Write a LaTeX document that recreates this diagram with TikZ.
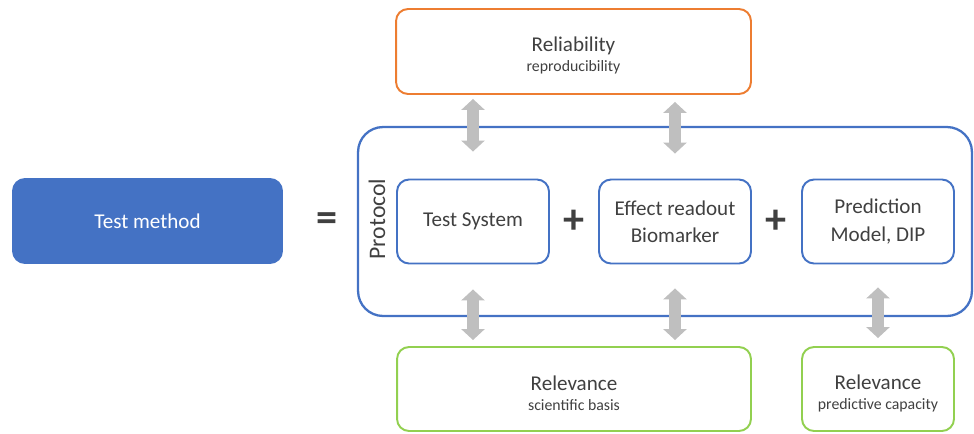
\documentclass[tikz,border=0pt]{standalone}
\usepackage{fontspec}
\setmainfont{Carlito}
\usetikzlibrary{arrows.meta}

\definecolor{methodblue}{HTML}{4472C4}
\definecolor{relorange}{HTML}{ED7D31}
\definecolor{relgreen}{HTML}{92D050}
\definecolor{arrowgray}{HTML}{BFBFBF}
\definecolor{textgray}{HTML}{404040}

\newcommand\mainsize{\fontsize{12}{15.5}\selectfont}
\newcommand\subsize{\fontsize{9}{11}\selectfont}
\newcommand\topstrut{\rule{0pt}{13pt}}

\begin{document}
\begin{tikzpicture}[x=0.02cm, y=-0.02cm,
  box/.style={draw, line width=1.1pt, rounded corners=0.24cm, align=center,
    text=textgray, font=\mainsize, minimum height=1.68cm, inner sep=0pt},
  smallbox/.style={box, draw=methodblue, minimum width=3.04cm},
  widebox/.style={box, minimum width=7.08cm},
  sign/.style={text=textgray, font=\fontsize{24}{24}\bfseries\selectfont},
  dblarrow/.style={draw=arrowgray, line width=0.24cm,
    {Triangle[width=0.46cm,length=0.22cm]}-{Triangle[width=0.46cm,length=0.22cm]}}]
\useasboundingbox (0,0) rectangle (974,433);

% test method
\node[box, fill=methodblue, draw=methodblue, text=white, minimum width=5.38cm]
  (method) at (147.5,221) {Test method};
\node[sign] (equals) at (327,222) {=};

% protocol
\node[box, draw=methodblue, line width=1.3pt, rounded corners=0.5cm,
  minimum width=12.28cm, minimum height=3.78cm] (protocol) at (665,221.5) {};
\node[rotate=90, text=textgray, font=\fontsize{13.5}{15}\selectfont]
  (protlabel) at (377,219) {Protocol};
\node[smallbox] (system) at (473,221.5) {Test System};
\node[sign] (plusA) at (574,222) {+};
\node[smallbox] (readout) at (675,221.5) {Effect readout\\Biomarker};
\node[sign] (plusB) at (776,222) {+};
\node[smallbox] (model) at (878,221.5) {Prediction\\Model, DIP};

% reliability and relevance
\node[widebox, draw=relorange, minimum width=7.1cm, minimum height=1.7cm]
  (reliab) at (573.5,51.5) {\topstrut Reliability\\[-4pt]{\subsize reproducibility}};
\node[widebox, draw=relgreen] (relsci) at (574,389)
  {\topstrut Relevance\\[-4pt]{\subsize scientific basis}};
\node[box, draw=relgreen, minimum width=3.04cm] (relpred) at (878,389)
  {\topstrut Relevance\\[-4pt]{\subsize predictive capacity}};

% arrows
\draw[dblarrow, shorten <=0.08cm, shorten >=0.54cm] (reliab.south -| system) -- (system.north);
\draw[dblarrow, shorten <=0.14cm, shorten >=0.5cm] (reliab.south -| readout) -- (readout.north);
\draw[dblarrow, shorten <=0.5cm, shorten >=0.12cm] (system.south) -- (relsci.north -| system);
\draw[dblarrow, shorten <=0.48cm, shorten >=0.12cm] (readout.south) -- (relsci.north -| readout);
\draw[dblarrow, shorten <=0.46cm, shorten >=0.16cm] (model.south) -- (relpred.north);
\end{tikzpicture}
\end{document}
